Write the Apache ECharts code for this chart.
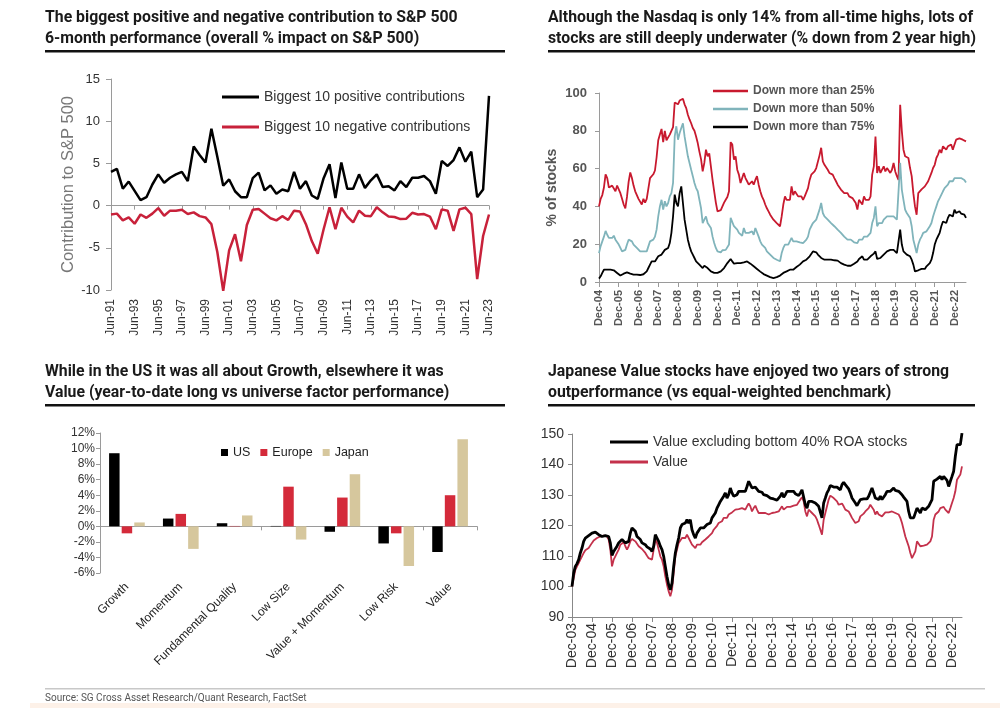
<!DOCTYPE html>
<html><head><meta charset="utf-8">
<script src="https://cdn.jsdelivr.net/npm/echarts@6/dist/echarts.min.js"></script>
<style>html,body{margin:0;padding:0;background:#fff}#c{width:1002px;height:728px}</style>
</head><body><div id="c"></div>
<script>
// ---------- categories ----------
const MON = ['Jan','Feb','Mar','Apr','May','Jun','Jul','Aug','Sep','Oct','Nov','Dec'];
function monthLabels(y, m, n, step) {
  const out = [];
  for (let i = 0; i < n; i++) {
    out.push(MON[m] + '-' + String(y % 100).padStart(2, '0'));
    m += step; while (m > 11) { m -= 12; y++; }
  }
  return out;
}
const spCats = monthLabels(1991, 5, 65, 6);      // Jun-91 .. Jun-23, semi-annual
const ndCats = monthLabels(2004, 11, 224, 1);    // Dec-04 .. Jul-23, monthly
const jpCats = monthLabels(2003, 11, 235, 1);    // Dec-03 .. Jun-23, monthly
const factorCats = ['Growth','Momentum','Fundamental Quality','Low Size','Value + Momentum','Low Risk','Value'];

// ---------- panel 1: S&P 500 contributions ----------
const spPositive = [4.0,4.35,2.0,2.85,1.75,0.65,1.0,2.5,3.7,2.7,
  3.3,3.7,4.0,2.9,7.0,6.0,5.1,9.1,5.8,2.35,
  3.1,1.7,1.0,1.0,3.25,3.9,1.8,2.4,1.4,1.9,
  1.7,4.0,2.0,2.9,1.2,0.8,3.25,4.9,0.9,5.1,
  2.0,2.0,3.7,2.1,3.0,3.7,2.2,2.3,1.8,2.9,
  2.2,3.3,3.3,3.5,2.9,1.4,5.3,4.7,5.4,6.9,
  5.2,6.4,1.0,1.9,13.0];
const spNegative = [-1.05,-0.95,-1.75,-1.4,-2.15,-1.05,-1.45,-0.95,-0.3,-1.2,
  -0.6,-0.6,-0.5,-1.0,-0.8,-1.25,-1.4,-2.2,-5.5,-10.1,
  -5.3,-3.4,-6.6,-2.3,-0.5,-0.4,-0.95,-1.5,-1.75,-1.25,
  -1.7,-0.6,-0.7,-2.2,-4.2,-5.7,-2.8,-0.2,-2.8,-0.25,
  -1.3,-2.0,-0.6,-1.2,-1.25,-0.2,-0.8,-1.3,-1.35,-1.6,
  -1.55,-0.85,-1.05,-1.0,-1.3,-2.8,-0.45,-0.6,-3.0,-0.45,
  -0.25,-1.0,-8.7,-3.6,-1.05];

// ---------- panel 2: Nasdaq % of stocks down ----------
const down25 = [40,
  44,46,50,57,55,50,50,51,50,48,51,50,
  47,44,41,39,45,53,58,55,51,48,46,44,
  43,41,44,42,44,44,55,54,57,59,66,75,
  78,81,74,80,75,75,78,77,82,95,96,94,
  96,96.5,97,94,92,88.5,86,84,81.5,80,77,73.5,
  69,65,58.5,63,70,66.5,68,61,54,48,42,37.4,
  36.5,38,40,42,43.5,45,48,74,72.7,64.7,66.5,59.4,
  56.8,52.4,51.5,57.7,55,53.3,51.5,50.6,53.3,51.5,54,56,
  51.5,48,45.3,43.5,41,39,37.4,35.6,34.7,33,32,31.2,
  32,29.5,34.7,41,45.3,43.5,42.7,43.5,50.6,46,48,47,
  45.3,44.4,45.3,43.5,45.3,44.4,49.7,54,56.8,57.7,58.5,60.3,
  59.4,67,71,63.8,62,61.2,59.4,57.7,57.7,56.8,55,53.3,
  51.5,50.6,48.9,48,47,48,47,45.3,46.2,44.4,43.5,41.8,
  38.3,43.5,44.4,41,45.3,43.5,42.7,43.5,45.3,56.8,61.2,77,
  57.7,61.2,57.7,56.8,61.2,58.5,60.3,61.2,57.7,59.4,63,58.5,
  56,54,93.8,80,70,66.5,67.4,65.6,60.3,56,47,40,
  35.6,47,48,49,50,50.6,51.5,53.3,54,57.7,60.3,62,
  65.6,67.4,70,68.3,71.8,72.7,70,71.8,71,72.7,70,72.7,
  75.3,74.4,76,77,75.3,76,74.4];
const down50 = [15.3,
  19,21.5,24,27,25,23.3,22.4,23.3,24.5,22.4,21.5,19.8,
  18,16.2,15.3,17,19.8,22.4,23.3,21.5,19.8,18.9,18,17,
  16.2,15.7,16.2,15.7,16.2,17,21.5,21,22.4,24,27.7,34.7,
  40,43.5,38.3,42.7,40,41.8,45.3,47,52.4,77,82.4,75.3,
  78.8,81.5,84,77,71.8,66.5,63,59.4,56,52.4,49.7,48,
  43.5,39,31.2,33,34.7,31.2,32,28.6,24,20.6,18,16.2,
  15.3,15.7,16.8,16.2,17,18,19.8,33.9,33,29.5,30.3,27.7,
  26,25,24.5,28.6,26,26.8,26,25,26.8,25,28.6,27.7,
  24,21.5,19.8,18.9,18,16.2,15.3,14.5,13.6,12.7,12.2,11.8,
  12.7,11,15.3,18,19.8,18.9,19.8,20.6,23.3,21.5,22.4,21.5,
  21.5,21,21.5,20.6,21.5,22.4,24,27.7,29.5,31.2,32,33,
  33.9,38.3,41.8,36.5,34.7,33.9,33,32,31.2,30.3,29.5,28.6,
  27.7,26.8,26,25,24,23.3,22.4,21.5,22.4,21.5,21,21.5,
  20.6,22.4,23.3,22.4,24,23.3,24,25,26,31.2,33.9,40,
  29.5,31.2,30.3,31.2,33,33.9,34.7,35.6,34.7,33.9,34.7,33.9,
  33,32,63,48.9,43.5,38.3,36.5,35.6,33.9,29.5,22.4,18.9,
  15.3,19.8,22.4,24,26,25,26.8,27.7,29.5,31.2,34.7,37.4,
  40,42.7,44.4,45.3,48,49.7,50.6,51.5,53.3,54,53.3,55,
  56,55,56,55,56,54,52.7];
const down75 = [1.8,
  3,4.8,6.5,7.4,6.5,6.2,6.5,6.9,6.2,5.6,4.8,3.9,
  3.4,3.7,4.4,4.8,5.1,4.8,4.4,4.2,3.9,3.7,3.9,3.9,
  3.7,3.9,4.1,4.8,5.6,7.4,9.2,10.9,11.8,10.9,11.8,13.6,
  12.7,14.5,15.3,17,16.2,18,20.6,26,34.7,46.2,41.8,40,
  47,50.6,41.8,33,27.7,22.4,18.9,16.2,14.5,12.7,10.9,10,
  9.2,8.3,7.4,8.6,8.3,7.4,6.5,5.6,5.1,4.8,4.4,4.8,
  5.1,5.6,6.5,7.4,8.3,10,10.9,12.2,10.9,9.7,10.4,10,
  9.7,10,9.7,10.4,10,10.9,10,9.7,9.2,8.3,7.4,6.9,
  6.2,5.5,4.8,4.2,3.9,3.4,3,2.6,2.3,2.1,2.5,2.6,
  3,3.4,3.9,4.8,5.1,5.6,6,6.5,6.9,6.5,7.4,7.9,
  8.3,9.2,10,10.9,11.3,11.8,12.7,13.6,14.5,16.2,17,15.7,
  14.5,13.6,12.7,12.2,11.8,12.2,11.8,12.2,11.8,11.8,11.5,11.8,
  11.3,10.9,10,9.7,9.2,8.3,8.6,8.3,8.6,9.2,9.7,10,
  10.9,12.2,12.7,13.6,11.8,12.2,11.8,12.7,13.6,14.5,15,16.2,
  12.2,11.8,12.7,13.6,14.5,15,16.2,16.8,17,17.5,17,16.2,
  15.3,14.5,27.7,19.8,16.2,15.3,14.5,13.9,13.6,11.8,9.2,5.6,
  4.8,6.2,6.5,6.9,6.2,6.9,8.3,9.2,10,11.8,15.3,19.8,
  22.4,24.2,26,29.5,32,33,31.2,33.9,35.6,36.5,34.7,38.3,
  36.5,35.6,37.4,36.2,36.5,35.6,33.9];

// ---------- panel 3: factor performance ----------
const usVals     = [9.4, 1.0, 0.4, 0.05, -0.7, -2.2, -3.3];
const europeVals = [-0.9, 1.6, 0.05, 5.1, 3.7, -0.9, 4.0];
const japanVals  = [0.5, -2.9, 1.4, -1.7, 6.7, -5.1, 11.2];

// ---------- panel 4: Japanese value ----------
const valueExROA = [100,
  104.4,106.6,107.5,108.8,111,112.6,114.8,115.9,116.2,116.7,117,117.5,
  118.1,117.8,117.3,117,116.7,116.4,117,116.7,117,116.4,114.3,110.2,
  111.5,112.1,113.2,114.3,114.8,115.4,115.6,114.3,113.7,114.8,117.5,119.2,
  118.9,118.1,116.4,115.9,115.4,114.3,114.5,113.7,113,112.6,112.3,111.5,
  113.2,117,115.9,114.8,113.2,112.1,109.9,106.6,103.3,100.6,98.9,101.1,
  106.6,111,113.7,115.9,119.2,120.3,119.7,120.8,121.9,120.8,121.9,118.6,
  117,115.9,117.5,118.1,119.2,118.6,119.2,119.7,120.3,120.3,120.8,122.5,
  123,124.1,125.7,126.8,127.9,128.5,129.6,130.7,129,130.1,132.3,130.7,
  129.6,130.1,130.1,131.2,130.7,131.2,131.7,131.2,132.8,134.5,133.9,132.3,
  131.7,132.6,132,131.2,131.7,130.9,130.1,130.4,129.8,129.3,129,129.3,
  128.7,129,128.3,128.7,129.6,130.7,129.3,130.1,131.2,131.7,131.2,130.7,
  131.2,130.4,130.1,129.8,130.7,131.7,131.2,126.8,125.7,127.9,128.3,127.9,
  127.9,127.4,126.8,126.3,125.7,122.5,127.4,129,130.7,131.7,133.1,133.1,
  132.6,132.3,132.6,133.1,131.7,133.4,134.2,133.4,132.8,132,130.7,129,
  128.5,127.4,126.5,126.8,128.5,128.5,128.7,129,128.7,129.6,130.1,132.3,
  130.7,129,129.6,128.5,129.6,128.5,129,130.1,131.2,131.7,131.2,131.7,
  132.3,131.5,131.7,131.2,130.7,130.1,129.3,129,127.9,124.6,122.5,121.9,
  122.5,122.1,125.7,125.2,124.1,125.7,125.2,125.2,124.6,126.3,126.8,128.5,
  134.5,134.5,135.2,135,136.1,135,136.1,135.6,134.8,132.8,134.5,136.1,
  137.8,142.7,146.5,146,146.5,150.3];
const valueAll = [100,
  102.8,105.5,106.6,107.7,108.8,109.9,111,111.9,112.3,112.6,113.2,114.3,
  115.1,115.4,115.9,116.2,116.4,116.2,116.7,116.2,116.4,115.4,112.1,106.6,
  108.8,109.9,111,112.1,113.7,114.3,114.5,113.2,112.1,113.2,114.8,115.6,
  115.4,114.8,114.3,113.2,113,112.3,112.1,111,110.1,109.3,109.9,108.8,
  112.1,115.4,114.3,112.1,109.9,108.8,106.6,103.3,100.6,98.4,96.8,98.9,
  104.4,109.9,112.1,114.3,114.8,115.9,115.4,115.9,117,115.9,115.4,113.7,
  113.2,112.6,113.7,114.3,113.7,114.5,114.8,115.4,115.9,116.4,116.7,117.5,
  118.6,119.2,119.9,120.8,121.4,121.4,122.5,123,122.5,123.6,124.1,124.3,
  124.6,125.2,125.2,125.4,125.2,125.7,125.4,125.2,126.3,127.2,126.3,124.6,
  125.7,126.5,125.2,124.1,124.6,124.1,123.9,124.1,123.9,123.6,124.1,124.1,
  123.9,124.3,124.1,124.6,125.2,126.3,125.2,125.7,126.1,126.3,126.1,126.3,
  126.5,126.3,126.8,127.4,128.5,129.3,127.9,124.6,123,125.2,124.6,124.1,
  123.6,123,121.9,120.3,120.8,117,121.9,124.1,126.3,128.5,129.8,129.8,
  129,128.5,127.9,126.8,126.3,127.2,126.3,125.2,125.4,124.6,123.6,122.5,
  121.9,120.8,120.3,121.4,123,123.6,123.9,124.6,125.2,125.7,126.8,127.4,
  125.2,123.6,124.6,123.6,124.1,123,123.6,124.3,124.6,124.3,124.1,124.6,
  124.6,124.1,124.6,123.6,122.5,120.8,118.6,116.4,114.8,113.2,111,109.3,
  109.9,111.5,114.8,114.3,113.2,113.7,113.4,113.7,113.7,114.3,114.8,116.4,
  121.9,123.6,124.1,124.6,125.7,125.2,126.1,125.2,124.6,124.1,125.7,127.4,
  129,131.2,135,135,136.7,139.4];

// ---------- chart ----------
const AX = '#9a9a9a';
const FF = '"Liberation Sans", Arial, sans-serif';
const TF = 'bold 15.8px Roboto, "Liberation Sans", sans-serif';
const isDec = (i, v) => v.indexOf('Dec') === 0;

const chart = echarts.init(document.getElementById('c'), null, {renderer: 'canvas'});
const option = {
  backgroundColor: '#fff',
  animation: false,
  grid: [
    {left: 111, top: 79, width: 378, height: 211},
    {left: 599, top: 93, width: 367, height: 189},
    {left: 100, top: 433, width: 377, height: 140},
    {left: 572, top: 434, width: 390, height: 183}
  ],
  xAxis: [
    {gridIndex: 0, type: 'category', data: spCats, boundaryGap: false, position: 'bottom',
     axisLine: {show: false, onZero: false}, axisTick: {show: false},
     axisLabel: {interval: 3, rotate: 90, fontSize: 12, color: '#333', margin: 9, fontFamily: FF}},
    {gridIndex: 0, type: 'category', data: spCats, boundaryGap: false, position: 'top',
     axisLine: {show: true, onZero: true, lineStyle: {color: AX, width: 1}},
     axisTick: {show: true, interval: 3, inside: true, length: 4, lineStyle: {color: AX}},
     axisLabel: {show: false}},
    {gridIndex: 1, type: 'category', data: ndCats, boundaryGap: false,
     axisLine: {show: true, lineStyle: {color: AX}},
     axisTick: {show: true, interval: isDec, length: 5, lineStyle: {color: AX}},
     axisLabel: {interval: isDec, rotate: 90, fontSize: 11, fontWeight: 'bold', color: '#555', margin: 8, fontFamily: FF}},
    {gridIndex: 2, type: 'category', data: factorCats, position: 'bottom',
     axisLine: {show: false, onZero: false}, axisTick: {show: false},
     axisLabel: {interval: 0, rotate: 45, fontSize: 12, color: '#222', margin: 12, fontFamily: FF}},
    {gridIndex: 2, type: 'category', data: factorCats, position: 'top',
     axisLine: {show: true, onZero: true, lineStyle: {color: AX}},
     axisTick: {show: true, inside: true, length: 4, lineStyle: {color: AX}},
     axisLabel: {show: false}},
    {gridIndex: 3, type: 'category', data: jpCats, boundaryGap: false,
     axisLine: {show: true, lineStyle: {color: '#888'}},
     axisTick: {show: true, interval: isDec, length: 5, lineStyle: {color: '#888'}},
     axisLabel: {interval: isDec, rotate: 90, fontSize: 14, color: '#333', margin: 6, fontFamily: FF}}
  ],
  yAxis: [
    {gridIndex: 0, type: 'value', min: -10, max: 15, interval: 5,
     axisLine: {show: true, lineStyle: {color: AX}}, axisTick: {show: true, length: 5, lineStyle: {color: AX}},
     splitLine: {show: false},
     axisLabel: {fontSize: 13, color: '#333', margin: 11, fontFamily: FF},
     name: 'Contribution to S&P 500', nameLocation: 'middle', nameGap: 34,
     nameTextStyle: {fontSize: 16.5, color: '#777', fontFamily: FF}},
    {gridIndex: 1, type: 'value', min: 0, max: 100, interval: 20,
     axisLine: {show: true, lineStyle: {color: AX}}, axisTick: {show: true, length: 4, lineStyle: {color: AX}},
     splitLine: {show: false},
     axisLabel: {fontSize: 13, fontWeight: 'bold', color: '#555', margin: 12, fontFamily: FF},
     name: '% of stocks', nameLocation: 'middle', nameGap: 40,
     nameTextStyle: {fontSize: 14, fontWeight: 'bold', color: '#555', fontFamily: FF}},
    {gridIndex: 2, type: 'value', min: -6, max: 12, interval: 2,
     axisLine: {show: true, lineStyle: {color: AX}}, axisTick: {show: true, length: 4, lineStyle: {color: AX}},
     splitLine: {show: false},
     axisLabel: {formatter: '{value}%', fontSize: 12, color: '#333', margin: 5, fontFamily: FF}},
    {gridIndex: 3, type: 'value', min: 90, max: 150, interval: 10,
     axisLine: {show: true, lineStyle: {color: '#888'}}, axisTick: {show: true, length: 4, lineStyle: {color: '#888'}},
     splitLine: {show: false},
     axisLabel: {fontSize: 14, color: '#333', margin: 8, fontFamily: FF}}
  ],
  legend: [
    {data: ['Biggest 10 positive contributions', 'Biggest 10 negative contributions'],
     orient: 'vertical', left: 222, top: 90, padding: 0, itemWidth: 37, itemHeight: 3, icon: 'rect', itemGap: 16,
     selectedMode: false, textStyle: {fontSize: 14, color: '#333', fontFamily: FF}},
    {data: ['Down more than 25%', 'Down more than 50%', 'Down more than 75%'],
     orient: 'vertical', left: 713, top: 85, padding: 0, itemWidth: 35, itemHeight: 2.5, icon: 'rect', itemGap: 6,
     selectedMode: false, textStyle: {fontSize: 12, fontWeight: 'bold', color: '#555', fontFamily: FF}},
    {data: ['US', 'Europe', 'Japan'],
     orient: 'horizontal', left: 221, top: 446, padding: 0, itemWidth: 7, itemHeight: 7, icon: 'rect', itemGap: 10,
     selectedMode: false, textStyle: {fontSize: 12.5, color: '#222', fontFamily: FF}},
    {data: ['Value excluding bottom 40% ROA stocks', 'Value'],
     orient: 'vertical', left: 610, top: 435, padding: 0, itemWidth: 38, itemHeight: 3, icon: 'rect', itemGap: 6,
     selectedMode: false, textStyle: {fontSize: 14, color: '#333', fontFamily: FF}}
  ],
  series: [
    {name: 'Biggest 10 positive contributions', type: 'line', xAxisIndex: 0, yAxisIndex: 0, data: spPositive,
     symbol: 'none', lineStyle: {color: '#000', width: 2.5}, itemStyle: {color: '#000'}},
    {name: 'Biggest 10 negative contributions', type: 'line', xAxisIndex: 0, yAxisIndex: 0, data: spNegative,
     symbol: 'none', lineStyle: {color: '#c8213a', width: 2.5}, itemStyle: {color: '#c8213a'}},
    {name: 'Down more than 25%', type: 'line', xAxisIndex: 2, yAxisIndex: 1, data: down25,
     symbol: 'none', lineStyle: {color: '#c8192e', width: 1.8}, itemStyle: {color: '#c8192e'}},
    {name: 'Down more than 50%', type: 'line', xAxisIndex: 2, yAxisIndex: 1, data: down50,
     symbol: 'none', lineStyle: {color: '#80b4bb', width: 1.8}, itemStyle: {color: '#80b4bb'}},
    {name: 'Down more than 75%', type: 'line', xAxisIndex: 2, yAxisIndex: 1, data: down75,
     symbol: 'none', lineStyle: {color: '#000', width: 1.8}, itemStyle: {color: '#000'}},
    {name: 'US', type: 'bar', xAxisIndex: 3, yAxisIndex: 2, data: usVals, barWidth: 10.5, barGap: '20%',
     itemStyle: {color: '#000'}},
    {name: 'Europe', type: 'bar', xAxisIndex: 3, yAxisIndex: 2, data: europeVals, barWidth: 10.5, barGap: '20%',
     itemStyle: {color: '#d42a3a'}},
    {name: 'Japan', type: 'bar', xAxisIndex: 3, yAxisIndex: 2, data: japanVals, barWidth: 10.5, barGap: '20%',
     itemStyle: {color: '#d6c79d'}},
    {name: 'Value', type: 'line', xAxisIndex: 5, yAxisIndex: 3, data: valueAll,
     symbol: 'none', lineStyle: {color: '#c4314b', width: 1.8}, itemStyle: {color: '#c4314b'}},
    {name: 'Value excluding bottom 40% ROA stocks', type: 'line', xAxisIndex: 5, yAxisIndex: 3, data: valueExROA,
     symbol: 'none', lineStyle: {color: '#000', width: 2.8}, itemStyle: {color: '#000'}}
  ],
  graphic: [
    {type: 'text', x: 45, y: 8, style: {text: 'The biggest positive and negative contribution to S&P 500\n6-month performance (overall % impact on S&P 500)', font: TF, fill: '#1a1a1a', lineHeight: 21}},
    {type: 'text', x: 548, y: 8, style: {text: 'Although the Nasdaq is only 14% from all-time highs, lots of\nstocks are still deeply underwater (% down from 2 year high)', font: TF, fill: '#1a1a1a', lineHeight: 21}},
    {type: 'text', x: 45, y: 362, style: {text: 'While in the US it was all about Growth, elsewhere it was\nValue (year-to-date long vs universe factor performance)', font: TF, fill: '#1a1a1a', lineHeight: 21}},
    {type: 'text', x: 548, y: 362, style: {text: 'Japanese Value stocks have enjoyed two years of strong\noutperformance (vs equal-weighted benchmark)', font: TF, fill: '#1a1a1a', lineHeight: 21}},
    {type: 'rect', shape: {x: 45, y: 50, width: 460, height: 2.5}, style: {fill: '#111'}},
    {type: 'rect', shape: {x: 548, y: 50, width: 427, height: 2.5}, style: {fill: '#111'}},
    {type: 'rect', shape: {x: 45, y: 404, width: 460, height: 2.5}, style: {fill: '#111'}},
    {type: 'rect', shape: {x: 548, y: 404, width: 427, height: 2.5}, style: {fill: '#111'}},
    {type: 'rect', shape: {x: 45, y: 688, width: 940, height: 1.5}, style: {fill: '#c8c8c8'}},
    {type: 'text', x: 45, y: 693, style: {text: 'Source: SG Cross Asset Research/Quant Research, FactSet', font: '10px Roboto, sans-serif', fill: '#555'}},
    {type: 'rect', shape: {x: 30, y: 703, width: 970, height: 5}, style: {fill: '#fdf1e8'}}
  ]
};
chart.setOption(option);
</script></body></html>
